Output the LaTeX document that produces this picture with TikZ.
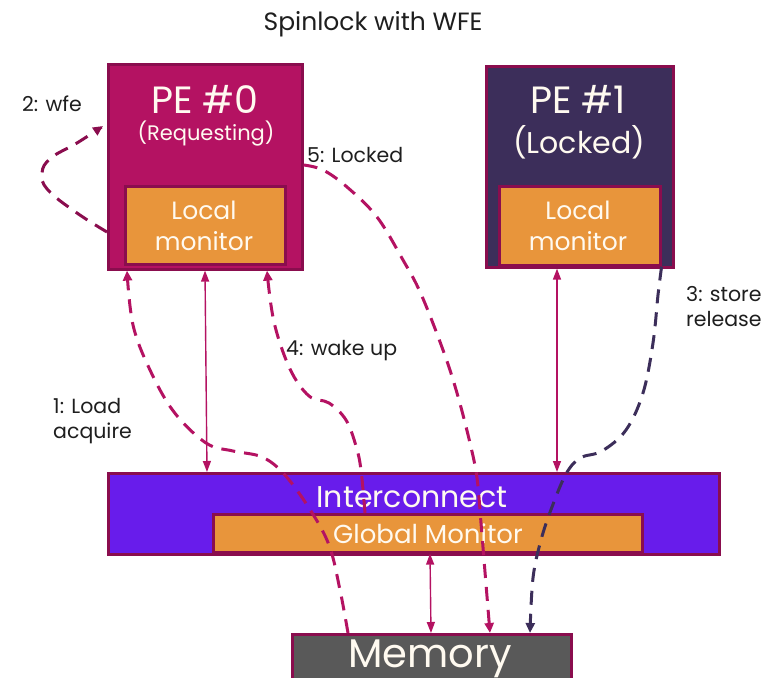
\documentclass[tikz,border=0pt]{standalone}
\usepackage{fontspec}
\setmainfont{Poppins}
\usetikzlibrary{arrows.meta}

\definecolor{peRed}{RGB}{180,18,98}
\definecolor{edgeRed}{RGB}{138,13,78}
\definecolor{monOrange}{RGB}{232,149,59}
\definecolor{peDark}{RGB}{60,46,90}
\definecolor{icViolet}{RGB}{104,28,235}
\definecolor{memGray}{RGB}{89,89,89}
\definecolor{inkText}{RGB}{30,30,30}
\definecolor{boxText}{RGB}{255,250,240}

\tikzset{
  box/.style={draw=edgeRed, line width=2.6pt, inner sep=0pt, anchor=north west},
  boxlabel/.style={text=boxText, align=center, inner sep=0pt},
  note/.style={text=inkText, align=left, inner sep=0pt, anchor=west,
    font=\fontsize{20.5}{25}\selectfont},
  busarrow/.style={draw=peRed, line width=1.4pt,
    {Triangle[width=8pt,length=11pt]}-{Triangle[width=8pt,length=11pt]}},
  flow/.style={line width=3pt, dash pattern=on 14pt off 9pt,
    -{Triangle[width=9pt,length=10pt]}},
}

\begin{document}
\begin{tikzpicture}[x=1pt,y=-1pt]
\useasboundingbox (0,0) rectangle (780,678);
\clip (0,0) rectangle (780,678);

% title
\node[text=inkText, inner sep=0pt, font=\fontsize{25}{28}\selectfont] (title) at (373,24) {Spinlock with WFE};

% processing elements
\node[box, fill=peRed, minimum width=194pt, minimum height=205pt] (pe0) at (107,63) {};
\node[box, fill=monOrange, minimum width=160pt, minimum height=78pt] (lm0) at (124,185) {};
\node[boxlabel, font=\fontsize{38}{40}\selectfont] (pe0t) at (205,99) {PE \#0};
\node[boxlabel, font=\fontsize{21}{24}\selectfont] (pe0s) at (206,134) {(Requesting)};
\node[boxlabel, font=\fontsize{25}{31}\selectfont] (lm0t) at (204,226) {Local\\monitor};

\node[box, fill=peDark, minimum width=187pt, minimum height=201pt] (pe1) at (485,65) {};
\node[box, fill=monOrange, minimum width=161pt, minimum height=79pt] (lm1) at (498,185) {};
\node[boxlabel, font=\fontsize{38}{40}\selectfont] (pe1t) at (578,99) {PE \#1};
\node[boxlabel, font=\fontsize{30}{33}\selectfont] (pe1s) at (579,142) {(Locked)};
\node[boxlabel, font=\fontsize{25}{31}\selectfont] (lm1t) at (578,226) {Local\\monitor};

% interconnect and global monitor
\node[box, fill=icViolet, minimum width=611pt, minimum height=81pt] (ic) at (107,472) {};
\node[box, fill=monOrange, minimum width=429pt, minimum height=38pt] (gm) at (212,513) {};
\node[boxlabel, font=\fontsize{30}{32}\selectfont] (ict) at (412,497) {Interconnect};
\node[boxlabel, font=\fontsize{26}{28}\selectfont] (gmt) at (428,534) {Global Monitor};

% memory
\node[box, fill=memGray, minimum width=279pt, minimum height=70pt] (mem) at (291,633) {};
\node[boxlabel, font=\fontsize{40}{42}\selectfont] (memt) at (430,659) {Memory};

% solid request/response links
\draw[busarrow] (pe0.south -| 205,0) -- (ic.north -| 207,0);
\draw[busarrow] (pe1.south -| 557,0) -- (ic.north -| 557,0);
\draw[busarrow] (gm.south -| 430,0) -- (mem.north -| 431,0);

% 1: load acquire
\draw[flow, draw=peRed] plot[smooth, tension=0.6] coordinates {
  (mem.north -| 348,0) (340,590) (329,545) (309,508) (284,474) (262,457)
  (233,451) (206,443) (174,412) (150,370) (133,325) (pe0.south -| 127,0)};

% 2: wfe
\draw[flow, draw=edgeRed] plot[smooth, tension=0.7] coordinates {
  (pe0.west |- 0,232) (77,213) (48,190) (42,173) (51,158) (77,143) (103,126)};

% 3: store release
\draw[flow, draw=peDark] plot[smooth, tension=0.6] coordinates {
  (lm1.south east) (658,295) (653,343) (643,393) (626,430) (602,451)
  (580,458) (566,474) (552,507) (541,540) (533,578) (mem.north -| 530,0)};

% 4: wake up
\draw[flow, draw=peRed] plot[smooth, tension=0.6] coordinates {
  (gm.north -| 365,0) (361,470) (356,446) (346,420) (329,403) (309,396)
  (290,369) (274,322) (pe0.south -| 267,0)};

% 5: locked
\draw[flow, draw=peRed] plot[smooth, tension=0.6] coordinates {
  (pe0.east |- 0,165) (323,170) (347,187) (377,217) (403,260) (421,294)
  (443,350) (457,393) (470,443) (477,478) (481,523) (485,572) (mem.north -| 490,0)};

% step labels
\node[note] (l2) at (22,104) {2: wfe};
\node[note] (l5) at (307,155) {5: Locked};
\node[note] (l1) at (53,421) {1: Load\\acquire};
\node[note] (l4) at (286,351) {4: wake up};
\node[note] (l3) at (686,307) {3: store\\release};
\end{tikzpicture}
\end{document}
